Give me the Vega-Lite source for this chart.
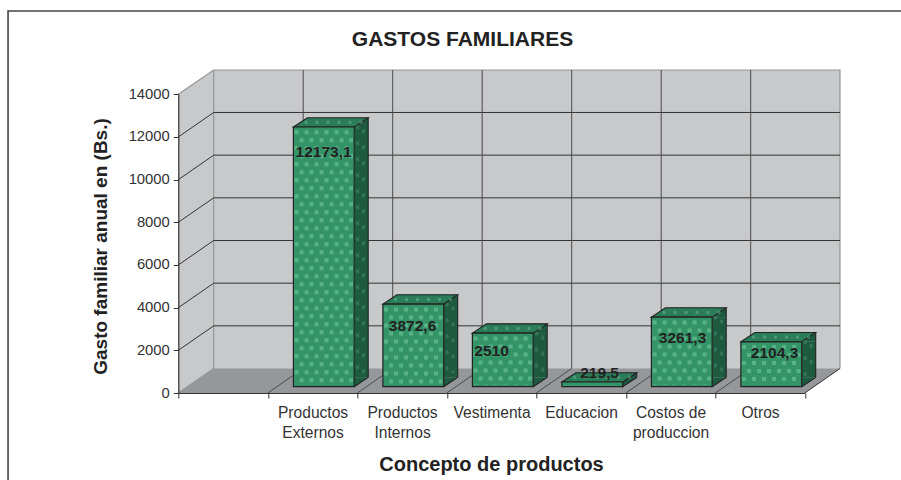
{
"$schema":"https://vega.github.io/schema/vega-lite/v6.json",
"width":662,"height":325,"autosize":{"type":"none"},
"padding":{"left":178.3,"top":68,"right":60.7,"bottom":87},
"background":"white",
"config":{"view":{"stroke":null},"font":"Liberation Sans"},
"title":{"text":"GASTOS FAMILIARES","anchor":"middle","frame":"group","dx":-46.8,"offset":-53,"baseline":"middle","fontSize":21,"fontWeight":"bold","font":"Liberation Sans","color":"#222"},
"data":{"values":[
{"concepto":"Productos|Externos","gasto":12173.1,"etiqueta":"12173,1"},
{"concepto":"Productos|Internos","gasto":3872.6,"etiqueta":"3872,6"},
{"concepto":"Vestimenta","gasto":2510,"etiqueta":"2510"},
{"concepto":"Educacion","gasto":219.5,"etiqueta":"219,5"},
{"concepto":"Costos de|produccion","gasto":3261.3,"etiqueta":"3261,3"},
{"concepto":"Otros","gasto":2104.3,"etiqueta":"2104,3"}
]},
"datasets":{
"ancla":[{"concepto":" ","gasto":0}],
"lineas":[{"concepto":" ","gasto":2000},{"concepto":" ","gasto":4000},{"concepto":" ","gasto":6000},{"concepto":" ","gasto":8000},{"concepto":" ","gasto":10000},{"concepto":" ","gasto":12000}],
"cats":[{"concepto":"Productos|Externos","gasto":0},{"concepto":"Productos|Internos","gasto":0},{"concepto":"Vestimenta","gasto":0},{"concepto":"Educacion","gasto":0},{"concepto":"Costos de|produccion","gasto":0},{"concepto":"Otros","gasto":0}]
},
"encoding":{
"x":{"field":"concepto","type":"nominal","sort":null,"scale":{"type":"band","domain":[" ","Productos|Externos","Productos|Internos","Vestimenta","Educacion","Costos de|produccion","Otros"],"range":[0,626.5],"paddingInner":0,"paddingOuter":0},
"axis":{"title":"Concepto de productos","titleFontSize":20,"titleFontWeight":"bold","titleColor":"#222","titleX":312.7,"titleY":71,"titleBaseline":"middle","titleAlign":"center","titleAnchor":null,"labelExpr":"split(datum.label,'|')","labelAngle":0,"labelFontSize":15.6,"labelColor":"#333","labelLineHeight":20,"labelPadding":7,"tickBand":"extent","tickSize":5,"tickColor":"#333","domainColor":"#333","domainWidth":1.2,"grid":false,"zindex":1,"labelBound":false,"labelOverlap":false,"labelLimit":0}},
"y":{"field":"gasto","type":"quantitative","scale":{"domain":[0,14000],"range":[325,26.3],"nice":false},
"axis":{"title":"Gasto familiar anual en (Bs.)","titleFontSize":19,"titleFontWeight":"bold","titleColor":"#222","titleAngle":-90,"titleX":-78.3,"titleY":178,"titleBaseline":"middle","titleAlign":"center","titleAnchor":null,"values":[0,2000,4000,6000,8000,10000,12000,14000],"format":"d","labelFontSize":14.8,"labelColor":"#333","labelPadding":4,"tickSize":5,"tickColor":"#333","domainColor":"#333","domainWidth":1.2,"grid":false,"zindex":1}}
},
"layer":[
{"data":{"name":"ancla"},"mark":{"type":"point","size":4,"filled":true,"opacity":1,"fill":"#c8c9cb","stroke":null,"shape":"M-44.75,0L-9.35,-24.5L-9.35,-323L616.95,-323L616.95,-24.5L581.75,0Z"}},
{"data":{"name":"ancla"},"mark":{"type":"point","size":4,"filled":true,"opacity":1,"fill":"#c8c9cb","stroke":null,"shape":"M-44.75,0L-9.35,-24.5L-9.35,-323L-44.75,-298.7Z"}},
{"data":{"name":"ancla"},"mark":{"type":"point","size":4,"filled":true,"opacity":1,"fill":"#96979a","stroke":null,"shape":"M-44.75,0L581.75,0L616.95,-24.5L-9.35,-24.5Z"}},
{"data":{"name":"ancla"},"mark":{"type":"point","size":4,"filled":false,"opacity":1,"stroke":"#949596","strokeWidth":1.2,"shape":"M-44.75,-298.7L-9.35,-323L616.95,-323L616.95,-24.5M-9.35,-323L-9.35,-24.5L-44.75,0"}},
{"data":{"name":"lineas"},"mark":{"type":"point","size":4,"filled":false,"opacity":1,"stroke":"#333","strokeWidth":1,"shape":"M-44.75,0L-9.35,-24.5L616.95,-24.5"}},
{"data":{"name":"cats"},"mark":{"type":"point","size":4,"filled":false,"opacity":1,"stroke":"#4a4a4c","strokeWidth":1,"shape":"M-44.75,0L-9.35,-24.5L-9.35,-323"}},
{"data":{"name":"ancla"},"mark":{"type":"point","size":4,"filled":false,"opacity":1,"stroke":"#333","strokeWidth":1,"shape":"M581.75,0L616.95,-24.5"}},
{"data":{"name":"ancla"},"mark":{"type":"point","size":4,"filled":false,"opacity":1,"stroke":"#444","strokeWidth":1.6,"shape":"M-215,87L-215,-382L678,-382"}},

{"transform":[{"filter":"datum.gasto>500"}],"mark":{"type":"bar","width":14,"xOffset":48.65,"yOffset":-6.3,"y2Offset":-15.6,"fill":"#1d5a40"},"encoding":{"y2":{"datum":0}}},
{"transform":[{"filter":"datum.gasto>500"}],"mark":{"type":"point","size":4,"filled":true,"opacity":1,"fill":"#1d5a40","stroke":null,"shape":"M41.65,-6.3L55.65,-15.6L55.65,-6.3Z"}},
{"data":{"name":"cats"},"transform":[{"filter":"datum.concepto!='Educacion'"}],"mark":{"type":"point","size":4,"filled":true,"opacity":1,"fill":"#1d5a40","stroke":"#222","strokeWidth":0,"shape":"M41.65,-6.3L55.65,-15.6L41.65,-15.6Z"}},
{"transform":[{"filter":"datum.gasto<500"}],"mark":{"type":"point","size":4,"filled":true,"opacity":1,"fill":"#1d5a40","stroke":"#222","strokeWidth":1.1,"shape":"M41.65,-6.3L55.65,-15.6L55.65,-10.9L41.65,-1.6Z"}},
{"transform":[{"filter":"datum.gasto>500"}],"mark":{"type":"rule","xOffset":45,"yOffset":-8,"y2Offset":-16,"stroke":"#4f9a78","strokeWidth":3,"strokeDash":[4,12],"opacity":0.4},"encoding":{"y2":{"datum":0}}},
{"transform":[{"filter":"datum.gasto>500"}],"mark":{"type":"rule","xOffset":51,"yOffset":-12,"y2Offset":-20,"stroke":"#4f9a78","strokeWidth":3,"strokeDash":[4,12],"strokeDashOffset":8,"opacity":0.4},"encoding":{"y2":{"datum":0}}},
{"transform":[{"filter":"datum.gasto>500"}],"mark":{"type":"rule","xOffset":55.65,"yOffset":-15.6,"y2Offset":-15.6,"stroke":"#222","strokeWidth":1.1},"encoding":{"y2":{"datum":0}}},
{"data":{"name":"cats"},"transform":[{"filter":"datum.concepto!='Educacion'"}],"mark":{"type":"point","size":4,"filled":false,"opacity":1,"stroke":"#222","strokeWidth":1.1,"shape":"M41.65,-6.3L55.65,-15.6"}},
{"mark":{"type":"point","size":4,"filled":true,"opacity":1,"fill":"#2a7d58","stroke":"#222","strokeWidth":1.1,"shape":"M-19.15,-6.3L41.65,-6.3L55.65,-15.6L-5.15,-15.6Z"}},
{"mark":{"type":"point","size":4,"filled":false,"opacity":0.35,"stroke":"#8fd0ae","strokeWidth":3,"strokeDash":[3,8],"shape":"M-8,-11L50,-11"}},
{"mark":{"type":"bar","width":60.8,"xOffset":11.25,"yOffset":-6.3,"y2Offset":-6.3,"fill":"#339468","stroke":"#222","strokeWidth":1.2},"encoding":{"y2":{"datum":0}}},
{"mark":{"type":"rule","xOffset":-16,"yOffset":-3,"y2Offset":-8,"stroke":"#8ed8b0","strokeWidth":4,"strokeDash":[4,12],"opacity":0.42},"encoding":{"y2":{"datum":0}}},
{"mark":{"type":"rule","xOffset":-11,"yOffset":-3,"y2Offset":-8,"stroke":"#8ed8b0","strokeWidth":4,"strokeDash":[4,12],"strokeDashOffset":8,"opacity":0.42},"encoding":{"y2":{"datum":0}}},
{"mark":{"type":"rule","xOffset":-6,"yOffset":-3,"y2Offset":-8,"stroke":"#8ed8b0","strokeWidth":4,"strokeDash":[4,12],"opacity":0.42},"encoding":{"y2":{"datum":0}}},
{"mark":{"type":"rule","xOffset":-1,"yOffset":-3,"y2Offset":-8,"stroke":"#8ed8b0","strokeWidth":4,"strokeDash":[4,12],"strokeDashOffset":8,"opacity":0.42},"encoding":{"y2":{"datum":0}}},
{"mark":{"type":"rule","xOffset":4,"yOffset":-3,"y2Offset":-8,"stroke":"#8ed8b0","strokeWidth":4,"strokeDash":[4,12],"opacity":0.42},"encoding":{"y2":{"datum":0}}},
{"mark":{"type":"rule","xOffset":9,"yOffset":-3,"y2Offset":-8,"stroke":"#8ed8b0","strokeWidth":4,"strokeDash":[4,12],"strokeDashOffset":8,"opacity":0.42},"encoding":{"y2":{"datum":0}}},
{"mark":{"type":"rule","xOffset":14,"yOffset":-3,"y2Offset":-8,"stroke":"#8ed8b0","strokeWidth":4,"strokeDash":[4,12],"opacity":0.42},"encoding":{"y2":{"datum":0}}},
{"mark":{"type":"rule","xOffset":19,"yOffset":-3,"y2Offset":-8,"stroke":"#8ed8b0","strokeWidth":4,"strokeDash":[4,12],"strokeDashOffset":8,"opacity":0.42},"encoding":{"y2":{"datum":0}}},
{"mark":{"type":"rule","xOffset":24,"yOffset":-3,"y2Offset":-8,"stroke":"#8ed8b0","strokeWidth":4,"strokeDash":[4,12],"opacity":0.42},"encoding":{"y2":{"datum":0}}},
{"mark":{"type":"rule","xOffset":29,"yOffset":-3,"y2Offset":-8,"stroke":"#8ed8b0","strokeWidth":4,"strokeDash":[4,12],"strokeDashOffset":8,"opacity":0.42},"encoding":{"y2":{"datum":0}}},
{"mark":{"type":"rule","xOffset":34,"yOffset":-3,"y2Offset":-8,"stroke":"#8ed8b0","strokeWidth":4,"strokeDash":[4,12],"opacity":0.42},"encoding":{"y2":{"datum":0}}},
{"mark":{"type":"rule","xOffset":38.5,"yOffset":-3,"y2Offset":-8,"stroke":"#8ed8b0","strokeWidth":4,"strokeDash":[4,12],"strokeDashOffset":8,"opacity":0.42},"encoding":{"y2":{"datum":0}}},

{"transform":[{"filter":"datum.gasto==12173.1"}],"mark":{"type":"text","font":"Liberation Sans","fontWeight":"bold","fontSize":15.5,"fill":"#222","baseline":"middle","align":"center","xOffset":11,"yOffset":18.7},"encoding":{"text":{"field":"etiqueta"}}},
{"transform":[{"filter":"datum.gasto==3872.6"}],"mark":{"type":"text","font":"Liberation Sans","fontWeight":"bold","fontSize":15.5,"fill":"#222","baseline":"middle","align":"center","xOffset":10.5,"yOffset":15.3},"encoding":{"text":{"field":"etiqueta"}}},
{"transform":[{"filter":"datum.gasto==2510"}],"mark":{"type":"text","font":"Liberation Sans","fontWeight":"bold","fontSize":15.5,"fill":"#222","baseline":"middle","align":"center","xOffset":0,"yOffset":11.6},"encoding":{"text":{"field":"etiqueta"}}},
{"transform":[{"filter":"datum.gasto==219.5"}],"mark":{"type":"text","font":"Liberation Sans","fontWeight":"bold","fontSize":15.5,"fill":"#222","baseline":"middle","align":"center","xOffset":18.5,"yOffset":-15.6},"encoding":{"text":{"field":"etiqueta"}}},
{"transform":[{"filter":"datum.gasto==3261.3"}],"mark":{"type":"text","font":"Liberation Sans","fontWeight":"bold","fontSize":15.5,"fill":"#222","baseline":"middle","align":"center","xOffset":12,"yOffset":14.9},"encoding":{"text":{"field":"etiqueta"}}},
{"transform":[{"filter":"datum.gasto==2104.3"}],"mark":{"type":"text","font":"Liberation Sans","fontWeight":"bold","fontSize":15.5,"fill":"#222","baseline":"middle","align":"center","xOffset":14.5,"yOffset":4.6},"encoding":{"text":{"field":"etiqueta"}}}
]
}
